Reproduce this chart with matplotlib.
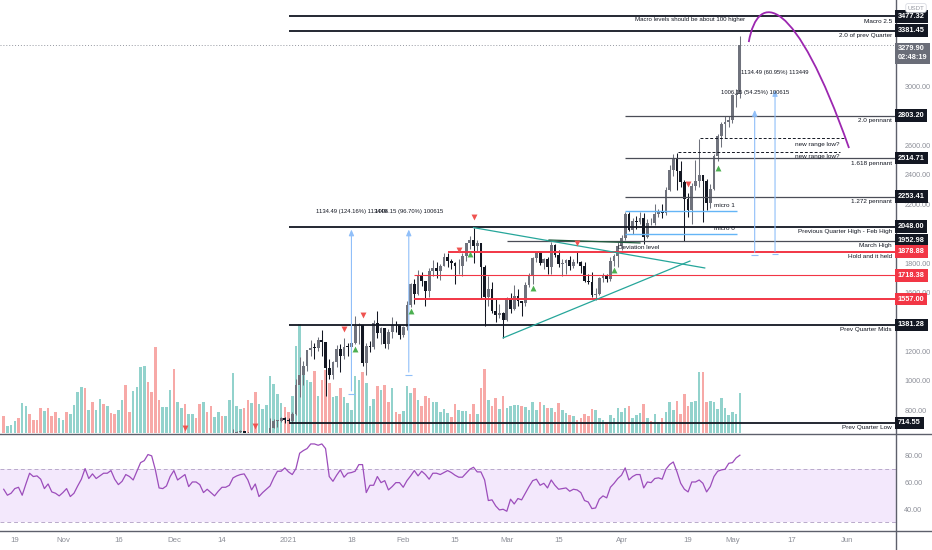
import matplotlib
matplotlib.use('Agg')
import matplotlib.pyplot as plt
import matplotlib.transforms as mtransforms
from matplotlib.path import Path
from matplotlib.patches import PathPatch
from matplotlib.lines import Line2D
import numpy as np
import pandas as pd

plt.rcParams['font.family'] = ['Liberation Sans', 'DejaVu Sans']

ORIGIN = pd.Timestamp('2020-10-19')
def dnum(s):
    return (pd.Timestamp(s) - ORIGIN).days

# ---------------- data ----------------
candle_start = '2020-12-14'
opens = [576, 586, 589, 636, 643, 654, 659, 638, 608, 634, 584, 611, 625, 635, 683, 731, 731, 751,
         737, 729, 775, 975, 1041, 1100, 1208, 1225, 1224, 1281, 1262, 1090, 1043, 1130, 1218, 1171, 1233, 1230, 1257, 1377, 1382, 1121, 1236, 1231, 1391, 1324, 1357, 1253, 1331, 1380, 1378,
         1314, 1369, 1515, 1660, 1594, 1718, 1677, 1613, 1746, 1768, 1744, 1783, 1843, 1814, 1805, 1779, 1781, 1848, 1939, 1960, 1919, 1935, 1777, 1571, 1625, 1475, 1446, 1459,
         1416, 1564, 1492, 1575, 1541, 1533, 1654, 1723, 1834, 1868, 1799, 1826, 1772, 1924, 1854, 1792, 1805, 1823, 1782, 1810, 1806, 1781, 1680, 1670, 1582, 1588, 1700, 1715, 1691, 1817, 1846,
         1918, 1970, 2136, 2027, 2090, 2081, 2110, 1981, 2071, 2073, 2138, 2152, 2142, 2300, 2433, 2514, 2426, 2353, 2234, 2165, 2328, 2356, 2399, 2362, 2211, 2303, 2530, 2663, 2746, 2757,
         2772, 2945, 2948]
highs = [590, 595, 640, 676, 660, 670, 662, 650, 636, 637, 614, 630, 638, 750, 745, 737, 755, 754,
         749, 787, 1011, 1162, 1134, 1210, 1279, 1260, 1300, 1348, 1262, 1150, 1136, 1247, 1250, 1290, 1260, 1265, 1440, 1395, 1382, 1260, 1270, 1415, 1475, 1367, 1358, 1355, 1435, 1410, 1381,
         1375, 1542, 1663, 1693, 1755, 1740, 1677, 1766, 1825, 1808, 1793, 1872, 1870, 1830, 1808, 1830, 1869, 1940, 1982, 2042, 1955, 1938, 1787, 1710, 1675, 1558, 1525, 1468,
         1570, 1600, 1650, 1622, 1545, 1670, 1733, 1842, 1872, 1880, 1837, 1840, 1947, 1932, 1888, 1826, 1832, 1848, 1832, 1875, 1818, 1810, 1724, 1740, 1630, 1708, 1733, 1727, 1845, 1860, 1945,
         1991, 2145, 2145, 2110, 2120, 2150, 2140, 2100, 2106, 2200, 2167, 2200, 2318, 2469, 2544, 2548, 2497, 2363, 2277, 2345, 2499, 2645, 2401, 2370, 2340, 2545, 2678, 2757, 2800, 2798,
         2950, 2985, 3347]
lows = [570, 578, 585, 628, 630, 647, 620, 594, 589, 550, 564, 603, 614, 630, 680, 690, 718, 715,
        714, 715, 769, 891, 976, 1065, 1167, 1151, 1205, 1170, 900, 1012, 1013, 1098, 1060, 1148, 1171, 1180, 1248, 1250, 1100, 1038, 1200, 1218, 1290, 1250, 1225, 1215, 1290, 1330, 1285,
        1296, 1348, 1501, 1525, 1584, 1645, 1511, 1570, 1710, 1700, 1688, 1778, 1775, 1760, 1660, 1728, 1716, 1818, 1899, 1800, 1882, 1560, 1371, 1511, 1460, 1400, 1425, 1293,
        1409, 1462, 1485, 1507, 1440, 1510, 1636, 1661, 1809, 1790, 1760, 1730, 1730, 1840, 1772, 1715, 1730, 1755, 1770, 1800, 1735, 1672, 1656, 1570, 1550, 1584, 1674, 1672, 1679, 1781, 1772,
        1892, 1960, 2018, 2000, 2036, 2068, 1932, 1970, 2060, 2060, 2114, 2110, 2127, 2290, 2396, 2300, 2317, 1950, 2112, 2070, 2298, 2320, 2082, 2165, 2176, 2295, 2492, 2593, 2650, 2723,
        2754, 2860, 2925]
closes = [586, 589, 636, 643, 654, 659, 638, 608, 634, 584, 611, 625, 635, 683, 731, 731, 751, 737,
          729, 775, 975, 1041, 1100, 1208, 1225, 1224, 1281, 1262, 1090, 1043, 1130, 1218, 1171, 1233, 1230, 1257, 1377, 1382, 1121, 1236, 1231, 1391, 1324, 1357, 1253, 1331, 1380, 1378, 1314,
          1369, 1515, 1660, 1594, 1718, 1677, 1613, 1746, 1768, 1744, 1783, 1843, 1814, 1805, 1779, 1781, 1848, 1939, 1960, 1919, 1935, 1777, 1571, 1625, 1475, 1446, 1459, 1416,
          1564, 1492, 1575, 1541, 1533, 1654, 1723, 1834, 1868, 1799, 1826, 1772, 1924, 1854, 1792, 1805, 1823, 1782, 1810, 1806, 1781, 1680, 1670, 1582, 1588, 1700, 1715, 1691, 1817, 1846, 1918,
          1970, 2136, 2027, 2090, 2081, 2110, 1981, 2071, 2073, 2138, 2152, 2142, 2300, 2433, 2514, 2426, 2353, 2234, 2165, 2328, 2356, 2399, 2362, 2211, 2303, 2530, 2663, 2746, 2757, 2772,
          2945, 2948, 3279.9]

volume_start = '2020-10-16'
volumes = [17.3, 6.7, 8, 12, 15.3, 30, 27.3, 19.3, 13.3, 13.3, 25.3, 22, 25.3, 17.3, 21.3, 15.3, 13.3, 21.3, 18.7, 28,
           41.3, 46, 45.3, 22.7, 31.3, 22.7, 34, 29.3, 27.3, 20, 18.7, 22.7, 32.7, 48, 21.3, 42, 46, 66, 67.3, 51.3,
           40.7, 86, 33.3, 26, 26, 43.3, 64, 31.3, 25.3, 29.3, 19.3, 18.7, 15.3, 29.3, 31.3, 20.7, 26.7, 16, 21.3, 16.7,
           17.3, 32.7, 60, 27.3, 24, 25.3, 33.3, 30, 41.3, 29.3, 24, 28, 57.3, 49.3, 38.7, 30, 26, 20.7,
           37.3, 86.7, 109, 60, 53.3, 50.7, 62, 37.3, 53.3, 63.3, 50, 36, 36.7, 45.3, 36, 30, 23.3, 56.7, 52.7, 61.3,
           50, 26.7, 34, 46.7, 43.3, 48, 31.3, 44.7, 21.3, 19.3, 22, 46.7, 40, 44.7, 32.7, 27.3, 37.3, 34.7, 31.3, 31.3,
           20.7, 24, 20, 16, 29.3, 23.3, 22, 22, 18.7, 29.3, 19.3, 45.3, 64, 33.3, 26.7, 35.3, 24, 37.3, 25.3, 26.7, 28, 28,
           27.3, 26, 23.3, 31.3, 22.7, 30.7, 28, 25.3, 25.3, 20.7, 30, 22.7, 20, 18, 16.7, 13.3, 14.7, 18.7, 17.3, 24,
           22.7, 15.3, 13.3, 11.3, 18, 15.3, 24.7, 20.7, 25.3, 26.7, 15.3, 18, 20, 29.3, 15.3, 12, 19.3, 11.3, 15.3, 21.3,
           31.3, 23.3, 32, 19.3, 39.3, 27.3, 31.3, 32, 60.7, 60.7, 31.3, 32, 31.3, 24, 34.7, 25.3, 18, 20.7, 19.3, 40]
volume_up = [0, 1, 1, 1, 0, 1, 1, 0, 0, 0, 0, 1, 0, 0, 0, 1, 1, 0, 1, 1,
             1, 1, 0, 1, 0, 1, 1, 0, 1, 0, 0, 1, 1, 0, 0, 1, 1, 1, 1, 0,
             0, 0, 0, 1, 1, 1, 0, 1, 1, 0, 1, 1, 0, 0, 1, 0, 0, 1, 1, 0,
             1, 1, 1, 1, 1, 0, 0, 1, 0, 1, 1, 1, 1, 1, 1, 1, 0, 0,
             1, 1, 1, 1, 1, 1, 0, 1, 0, 0, 0, 1, 1, 0, 1, 1, 1, 1, 1, 0,
             1, 1, 1, 0, 1, 0, 0, 1, 0, 0, 1, 1, 1, 0, 1, 0, 0, 0, 1, 1,
             1, 1, 1, 0, 0, 1, 1, 1, 0, 0, 1, 0, 0, 1, 0, 0, 1, 0, 1, 1, 1, 1,
             0, 1, 1, 1, 1, 0, 1, 0, 1, 0, 0, 1, 1, 0, 1, 0, 0, 0, 0, 0,
             1, 1, 1, 0, 1, 1, 1, 1, 1, 0, 1, 1, 1, 0, 1, 0, 1, 1, 0, 1,
             1, 1, 0, 0, 0, 0, 1, 1, 1, 0, 0, 1, 1, 1, 1, 1, 1, 1, 1, 1]

rsi_end = '2021-05-03'
rsi = [54.9, 50.4, 51.9, 55.4, 56.4, 50.4, 58.9, 67.0, 64.5, 65.0,
       62.5, 55.4, 58.9, 52.9, 51.9, 49.9, 52.4, 55.4, 49.4, 51.9,
       57.4, 62.5, 70.5, 63.0, 66.5, 63.0, 65.0, 67.0, 67.0, 69.0,
       62.5, 58.4, 60.9, 66.0, 64.5, 61.9, 68.5, 75.0, 76.5, 81.1,
       80.1, 69.5, 55.9, 55.4, 57.4, 64.5, 69.0, 61.9, 64.0, 66.0,
       56.9, 60.4, 60.4, 58.4, 52.4, 54.9, 52.4, 49.9, 53.4, 56.4,
       56.4, 57.9, 63.5, 65.0, 66.0, 66.5, 61.9, 54.4, 58.9, 49.4,
       52.4, 54.9, 57.4, 63.5, 68.5, 68.5, 71.0, 68.0, 66.0, 70.5,
       82.1, 84.1, 85.6, 89.1, 89.1, 88.1, 89.1, 85.6, 64.5, 60.9,
       65.5, 69.5, 64.0, 67.0, 67.5, 68.5, 73.5, 73.5, 52.4, 57.9,
       57.9, 64.5, 59.9, 61.4, 54.4, 56.9, 59.9, 59.9, 56.4, 61.4,
       65.0, 69.0, 65.0, 68.5, 66.0, 62.5, 67.0, 67.0, 66.0, 67.5,
       69.0, 67.5, 65.5, 64.0, 64.0, 67.0, 70.0,
       71.5, 68.0, 68.0, 61.9, 46.4, 46.9, 42.3, 39.3, 39.8, 38.3,
       47.4, 43.8, 47.9, 46.9, 51.9, 56.9, 61.4, 62.5, 57.9, 59.4,
       55.9, 61.9, 57.9, 54.9, 55.4, 55.9, 53.4, 54.9, 54.4, 52.4,
       46.4, 45.3, 40.3, 40.8, 47.4, 49.9, 48.4, 56.4, 59.4, 63.0,
       65.5, 71.0, 61.9, 64.5, 66.0, 66.0, 55.9, 60.4, 59.9, 63.0,
       63.5, 62.5, 70.0, 73.5, 75.5, 68.0, 59.4, 54.9, 52.9, 60.4,
       60.4, 61.9, 59.4, 52.9, 56.9, 64.5, 68.5, 69.5, 70.0, 74.5,
       75.0, 78.6, 80.6]

# horizontal levels
level_prices = [3477.32, 3381.45, 2803.20, 2514.71, 2253.41, 2048.00, 1952.98, 1878.88, 1718.38, 1557.00, 1381.28, 714.55]
level_starts = ['2021-01-01', '2021-01-01', '2021-04-02', '2021-04-02', '2021-04-02', '2021-01-01', '2021-03-01',
                '2021-02-13', '2021-02-04', '2021-02-04', '2021-01-01', '2021-01-01']
level_notes = ['Macro 2.5', '2.0 of prev Quarter', '2.0 pennant', '1.618 pennant', '1.272 pennant',
               'Previous Quarter High - Feb High', 'March High', 'Hold and it held', '', '',
               'Prev Quarter Mids', 'Prev Quarter Low']
level_kind = ['major', 'major', 'minor', 'minor', 'minor', 'major', 'minor', 'redthick', 'redthin', 'redthick', 'major', 'major']

current_price = 3279.90
countdown = '02:48:19'

price_ticks = [800, 1000, 1200, 1600, 1800, 2200, 2400, 2600, 3000]
rsi_ticks = [40, 60, 80]

sell_dates = ['2020-12-04', '2020-12-23', '2021-01-16', '2021-01-21', '2021-02-16', '2021-02-20', '2021-03-20', '2021-04-19']
sell_prices = [680, 694, 1353, 1448, 1890, 2114, 1938, 2338]
buy_dates = ['2021-01-19', '2021-02-03', '2021-02-19', '2021-03-08', '2021-03-30', '2021-04-27']
buy_prices = [1217, 1476, 1863, 1632, 1754, 2447]

xtick_dates = ['2020-10-19', '2020-11-01', '2020-11-16', '2020-12-01', '2020-12-14', '2021-01-01', '2021-01-18',
               '2021-02-01', '2021-02-15', '2021-03-01', '2021-03-15', '2021-04-01', '2021-04-19', '2021-05-01',
               '2021-05-17', '2021-06-01']
xtick_labels = ['19', 'Nov', '16', 'Dec', '14', '2021', '18', 'Feb', '15', 'Mar', '15', 'Apr', '19', 'May', '17', 'Jun']

# ---------------- figure ----------------
W, H = 932, 550
fig = plt.figure(figsize=(W / 100, H / 100), dpi=100)
fig.patch.set_facecolor('white')
AXR = 896
rect_main = [0, 1 - 433 / H, AXR / W, 433 / H]
ax_v = fig.add_axes(rect_main)
ax = fig.add_axes(rect_main, sharex=ax_v)
axr = fig.add_axes([0, 1 - 531 / H, AXR / W, 97 / H], sharex=ax_v)
ax_v.set_zorder(1)
ax.set_zorder(2)
ax.patch.set_visible(False)

XMIN, XMAX = -4.0, 238.2
ax.set_xlim(XMIN, XMAX)
ax.set_ylim(646.6, 3588.7)

# volume
vx = np.arange(len(volumes)) + dnum(volume_start)
vcol = ['#92d2cc' if u else '#f7a9a7' for u in volume_up]
ax_v.bar(vx, volumes, width=0.7, color=vcol, linewidth=0)
ax_v.set_ylim(0, 433)
ax_v.axis('off')

# candles
cx = np.arange(len(closes)) + dnum(candle_start)
o = np.array(opens, float); c = np.array(closes, float)
hi = np.array(highs, float); lo = np.array(lows, float)
up = c >= o
ccol = np.where(up, '#6f727c', '#131722')
ax.vlines(cx, lo, hi, colors=ccol, linewidth=0.75, zorder=3)
body_h = np.maximum(np.abs(c - o), 5)
ax.bar(cx, body_h, bottom=np.minimum(o, c), width=0.75, color=ccol, linewidth=0, zorder=3)

trans_r = mtransforms.blended_transform_factory(ax.transAxes, ax.transData)
box_x = 1 + 2.0 / AXR

# levels
for p, s, note, kind in zip(level_prices, level_starts, level_notes, level_kind):
    if kind == 'major':
        col, lw, box = '#131722', 1.3, '#131722'
    elif kind == 'minor':
        col, lw, box = '#4a4d57', 0.9, '#131722'
    elif kind == 'redthick':
        col, lw, box = '#f23645', 1.4, '#f23645'
    else:
        col, lw, box = '#f23645', 0.8, '#f23645'
    ax.hlines(p, dnum(s), XMAX, colors=col, linewidth=lw, zorder=4)
    if note:
        ax.annotate(note, xy=(892 / AXR, p), xycoords=trans_r, xytext=(0, -1.8),
                    textcoords='offset points', ha='right', va='top', fontsize=4.6,
                    color='#131722', zorder=6)
    ax.text(box_x, p, f'{p:.2f}', transform=trans_r, ha='left', va='center',
            fontsize=5.3, color='white', fontweight='bold', clip_on=False, zorder=10,
            bbox=dict(boxstyle='square,pad=0.38', fc=box, ec='none'))

# current price
ax.axhline(current_price, color='#9598a1', linewidth=0.7, linestyle=(0, (1, 2)), zorder=2)
ax.text(box_x, current_price, f'{current_price:.2f}\n{countdown}', transform=trans_r, ha='left', va='top',
        fontsize=5.3, color='white', fontweight='bold', clip_on=False, zorder=10, linespacing=1.35,
        bbox=dict(boxstyle='square,pad=0.38', fc='#6a6d78', ec='none'))

# price axis ticks
ax.yaxis.tick_right()
ax.set_yticks(price_ticks)
ax.set_yticklabels([f'{v:.2f}' for v in price_ticks])
ax.tick_params(axis='y', length=0, pad=6, labelsize=5.2, labelcolor='#8c8f98')
ax.tick_params(axis='x', length=0, labelbottom=False)
for sp in ax.spines.values():
    sp.set_visible(False)

# micro lines, range-low lines
ax.hlines([2155, 1995.5], dnum('2021-04-02'), 195.2, colors='#64b5f6', linewidth=1.0, zorder=4)
ax.text(189, 2189, 'micro 1', fontsize=4.6, color='#131722', ha='left', va='center', zorder=6)
ax.text(189, 2033, 'micro 0', fontsize=4.6, color='#131722', ha='left', va='center', zorder=6)
ax.hlines(2651, 185.2, 224.4, colors='#131722', linewidth=0.7, linestyles=(0, (3, 2)), zorder=4)
ax.hlines(2558, 179.2, 223.0, colors='#131722', linewidth=0.7, linestyles=(0, (3, 2)), zorder=4)
ax.text(216.8, 2610, 'new range low?', fontsize=4.6, color='#131722', ha='center', va='center', zorder=6)
ax.text(216.8, 2522, 'new range low?', fontsize=4.6, color='#131722', ha='center', va='center', zorder=6)
ax.text(163.0, 1910, 'Deviation level', fontsize=4.6, color='#131722', ha='left', va='center', zorder=6)
ax.text(182.5, 3453, 'Macro levels should be about 100 higher', fontsize=4.4, color='#131722',
        ha='center', va='center', zorder=6)

# pennant lines
ax.plot([124, 186.5], [2042, 1768], color='#26a69a', linewidth=0.9, zorder=4)
ax.plot([132, 182.5], [1293, 1815], color='#26a69a', linewidth=0.9, zorder=4)
ax.plot([144.4, 169], [1958, 1938], color='#1e5a3c', linewidth=0.9, zorder=4)

# measurement tools
meas_x = [91, 106.5, 200, 205.5]
meas_lo = [913.51, 1041.85, 1854.6, 1861.3]
meas_hi = [2048.0, 2048.0, 2860.75, 2995.8]
meas_txt = ['1134.49 (124.16%) 113449', '1006.15 (96.70%) 100615', '1006.15 (54.25%) 100615', '1134.49 (60.95%) 113449']
meas_ty = [2155, 2155, 2959, 3097]
for mx, a, b, t, ty in zip(meas_x, meas_lo, meas_hi, meas_txt, meas_ty):
    ax.annotate('', xy=(mx, b), xytext=(mx, a),
                arrowprops=dict(arrowstyle='-|>,head_length=0.35,head_width=0.15', color='#90bff9', lw=0.8),
                zorder=5)
    ax.hlines(a, mx - 0.9, mx + 0.9, colors='#90bff9', linewidth=0.8, zorder=5)
    ax.text(mx, ty, t, fontsize=4.2, color='#131722', ha='center', va='center', zorder=6)

# signal triangles
ax.scatter([dnum(d) for d in sell_dates], sell_prices, marker='v', s=18, color='#ef5350', linewidths=0, zorder=6)
ax.scatter([dnum(d) for d in buy_dates], buy_prices, marker='^', s=18, color='#4caf50', linewidths=0, zorder=6)

# projection arc
arc = Path([(198.4, 3303), (200.9, 3657), (210.9, 3623), (225.5, 2583)],
           [Path.MOVETO, Path.CURVE4, Path.CURVE4, Path.CURVE4])
ax.add_patch(PathPatch(arc, fc='none', ec='#9c27b0', lw=1.3, zorder=6))

# ---------------- RSI ----------------
rx = np.arange(len(rsi)) + dnum(rsi_end) - len(rsi) + 1
axr.set_ylim(23.4, 96.6)
axr.axhspan(30, 70, color='#f3e8fc', zorder=0, linewidth=0)
axr.axhline(70, color='#b9aacb', linewidth=0.7, linestyle=(0, (4, 3)))
axr.axhline(30, color='#b9aacb', linewidth=0.7, linestyle=(0, (4, 3)))
axr.plot(rx, rsi, color='#9c4dbb', linewidth=0.9)
axr.yaxis.tick_right()
axr.set_yticks(rsi_ticks)
axr.set_yticklabels([f'{v:.2f}' for v in rsi_ticks])
axr.tick_params(axis='y', length=0, pad=6, labelsize=5.2, labelcolor='#8c8f98')
axr.set_xticks([dnum(d) for d in xtick_dates])
axr.set_xticklabels(xtick_labels)
axr.tick_params(axis='x', length=0, pad=4, labelsize=5.6, labelcolor='#8c8f98')
for sp in axr.spines.values():
    sp.set_visible(False)
axr.set_xlim(XMIN, XMAX)

# panel separators
sep = '#5d606b'
fig.add_artist(Line2D([0, 1], [1 - 433.5 / H, 1 - 433.5 / H], color=sep, lw=1.0, transform=fig.transFigure))
fig.add_artist(Line2D([0, 1], [1 - 531 / H, 1 - 531 / H], color=sep, lw=1.0, transform=fig.transFigure))
fig.add_artist(Line2D([AXR / W, AXR / W], [0, 1], color=sep, lw=1.0, transform=fig.transFigure))

fig.text(916 / W, 1 - 8 / H, 'USDT', fontsize=4.4, color='#9598a1', ha='center', va='center',
         bbox=dict(boxstyle='round,pad=0.3', fc='white', ec='#d1d4dc', lw=0.5), zorder=20)

fig.savefig('out.png', dpi=100, facecolor='white')
